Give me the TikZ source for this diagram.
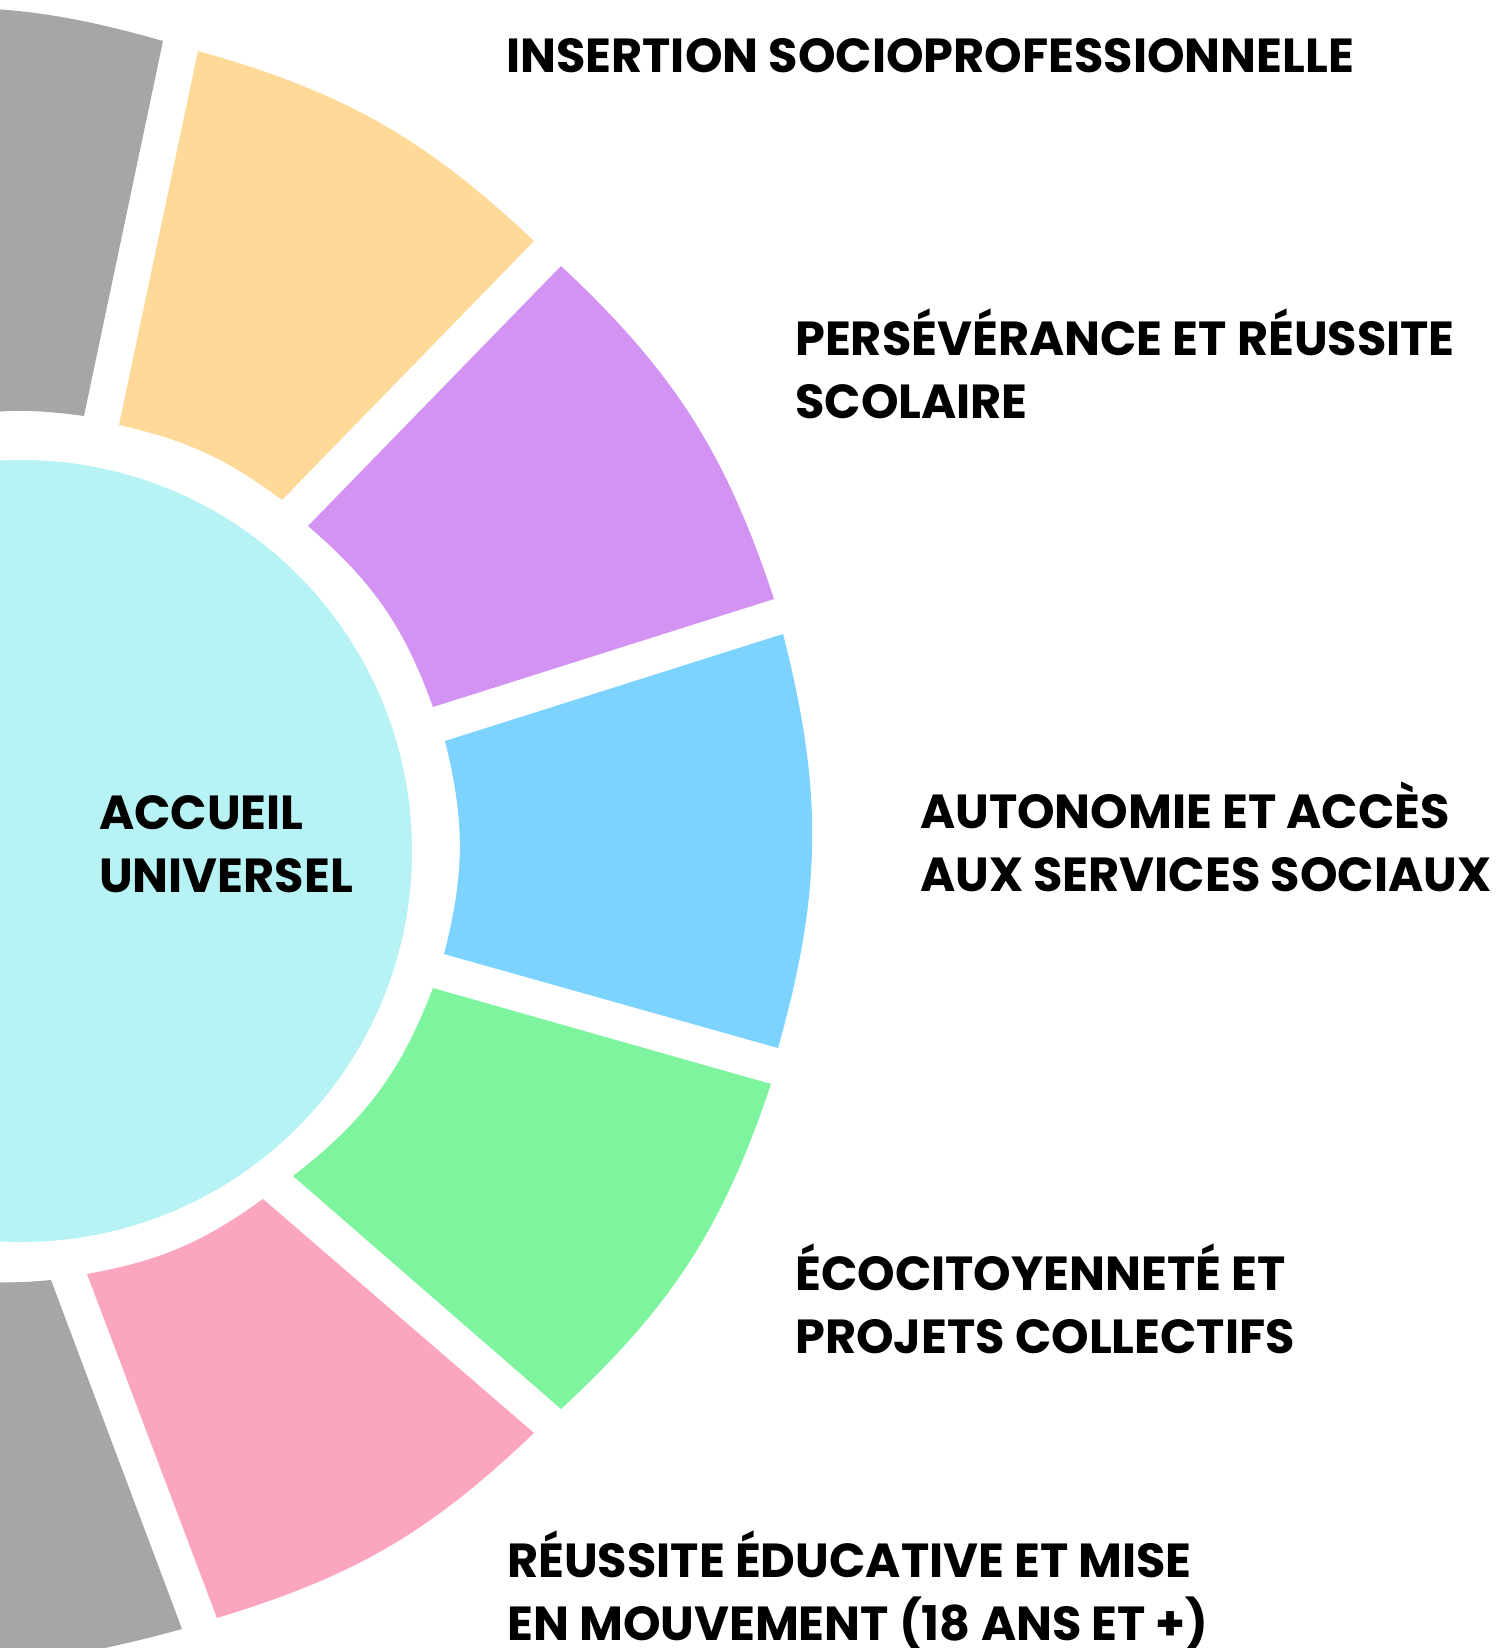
\documentclass[tikz,border=0pt]{standalone}
\usepackage{fontspec}
\setmainfont{Poppins}
\definecolor{greyseg}{HTML}{A6A6A6}
\definecolor{yellowseg}{HTML}{FFD998}
\definecolor{purpleseg}{HTML}{D393F2}
\definecolor{blueseg}{HTML}{7DD3FF}
\definecolor{greenseg}{HTML}{7EF49F}
\definecolor{pinkseg}{HTML}{FBA5BF}
\definecolor{coreseg}{HTML}{B7F3F4}
\tikzset{
    themetext/.style={anchor=base west, inner sep=0pt, align=left,
        font=\fontsize{47.8}{62.5}\selectfont\bfseries},
    corecircle/.style={circle, fill=coreseg, inner sep=0pt, minimum size=782pt}
}
\begin{document}
\begin{tikzpicture}[x=1pt, y=1pt]
    \useasboundingbox (0,-1648) rectangle (1502,0);
    \clip (0,-1648) rectangle (1502,0);
    \coordinate (gt-o1) at (-150,-14);  \coordinate (gt-o2) at (163,-41);
    \coordinate (gt-i2) at (84,-416);   \coordinate (gt-i1) at (-60,-420);
    \coordinate (ye-o1) at (198,-51);   \coordinate (ye-o2) at (534,-241);
    \coordinate (ye-i2) at (282,-500);  \coordinate (ye-i1) at (119,-425);
    \coordinate (pu-o1) at (561,-266);  \coordinate (pu-o2) at (774,-599);
    \coordinate (pu-i2) at (433,-707);  \coordinate (pu-i1) at (308,-526);
    \coordinate (bl-o1) at (783,-634);  \coordinate (bl-o2) at (778,-1048);
    \coordinate (bl-i2) at (444,-954);  \coordinate (bl-i1) at (445,-741);
    \coordinate (gr-o1) at (771,-1084); \coordinate (gr-o2) at (561,-1409);
    \coordinate (gr-i2) at (293,-1176); \coordinate (gr-i1) at (433,-988);
    \coordinate (pk-o1) at (534,-1433); \coordinate (pk-o2) at (217,-1618);
    \coordinate (pk-i2) at (87,-1274);  \coordinate (pk-i1) at (263,-1199);
    \coordinate (gb-o1) at (182,-1629); \coordinate (gb-o2) at (-150,-1660);
    \coordinate (gb-i2) at (-60,-1276); \coordinate (gb-i1) at (51,-1280);
    \foreach \seg/\col/\bo/\bi in {gt/greyseg/11/9.5, ye/yellowseg/13.8/11.9,
            pu/purpleseg/14.3/14.7, bl/blueseg/15.1/14.2, gr/greenseg/14.3/15.6,
            pk/pinkseg/13.4/12.7, gb/greyseg/10/7.3} {
        \fill[\col] (\seg-o1) to[bend left=\bo] (\seg-o2) -- (\seg-i2)
            to[bend right=\bi] (\seg-i1) -- cycle;
    }
    \node[corecircle] (core) at (21,-851) {};
    \node[themetext] (accueil) at (99,-892) {ACCUEIL\\UNIVERSEL};
    \node[themetext] (insertion) at (506,-73) {INSERTION SOCIOPROFESSIONNELLE};
    \node[themetext] (perseverance) at (795,-418) {PERSÉVÉRANCE ET RÉUSSITE\\SCOLAIRE};
    \node[themetext] (autonomie) at (920,-891) {AUTONOMIE ET ACCÈS\\AUX SERVICES SOCIAUX};
    \node[themetext] (ecocitoyennete) at (795,-1353) {ÉCOCITOYENNETÉ ET\\PROJETS COLLECTIFS};
    \node[themetext] (reussite) at (507,-1640) {RÉUSSITE ÉDUCATIVE ET MISE\\EN MOUVEMENT (18 ANS ET +)};
\end{tikzpicture}
\end{document}
